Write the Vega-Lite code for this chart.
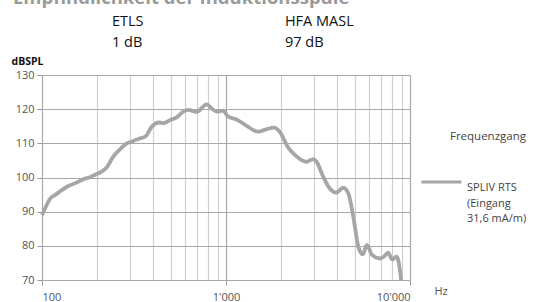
{
  "$schema": "https://vega.github.io/schema/vega-lite/v6.json",
  "width": 368,
  "height": 205,
  "autosize": "none",
  "padding": {"left": 42, "top": 75, "right": 138, "bottom": 22},
  "config": {
    "view": {"stroke": null},
    "font": "Open Sans",
    "axis": {"labelFont": "Open Sans", "titleFont": "Open Sans"}
  },
  "title": {
    "text": "Empfindlichkeit der Induktionsspule",
    "anchor": "start",
    "frame": "group",
    "fontSize": 18.5,
    "fontWeight": "bold",
    "color": "#9a9a9a",
    "baseline": "alphabetic",
    "offset": -9,
    "dx": -29
  },
  "datasets": {
    "curve": [
      {"f": 100, "db": 89.0, "s": "SPLIV RTS"},
      {"f": 104, "db": 91.0, "s": "SPLIV RTS"},
      {"f": 111, "db": 93.9, "s": "SPLIV RTS"},
      {"f": 118, "db": 94.9, "s": "SPLIV RTS"},
      {"f": 128, "db": 96.3, "s": "SPLIV RTS"},
      {"f": 139, "db": 97.5, "s": "SPLIV RTS"},
      {"f": 154, "db": 98.5, "s": "SPLIV RTS"},
      {"f": 168, "db": 99.5, "s": "SPLIV RTS"},
      {"f": 182, "db": 100.1, "s": "SPLIV RTS"},
      {"f": 198, "db": 101.0, "s": "SPLIV RTS"},
      {"f": 211, "db": 101.7, "s": "SPLIV RTS"},
      {"f": 225, "db": 103.0, "s": "SPLIV RTS"},
      {"f": 244, "db": 106.1, "s": "SPLIV RTS"},
      {"f": 265, "db": 108.2, "s": "SPLIV RTS"},
      {"f": 289, "db": 110.0, "s": "SPLIV RTS"},
      {"f": 314, "db": 110.7, "s": "SPLIV RTS"},
      {"f": 334, "db": 111.3, "s": "SPLIV RTS"},
      {"f": 366, "db": 112.1, "s": "SPLIV RTS"},
      {"f": 395, "db": 114.9, "s": "SPLIV RTS"},
      {"f": 434, "db": 116.1, "s": "SPLIV RTS"},
      {"f": 460, "db": 115.9, "s": "SPLIV RTS"},
      {"f": 496, "db": 116.8, "s": "SPLIV RTS"},
      {"f": 539, "db": 117.6, "s": "SPLIV RTS"},
      {"f": 586, "db": 119.3, "s": "SPLIV RTS"},
      {"f": 623, "db": 119.8, "s": "SPLIV RTS"},
      {"f": 692, "db": 119.2, "s": "SPLIV RTS"},
      {"f": 786, "db": 121.4, "s": "SPLIV RTS"},
      {"f": 837, "db": 120.2, "s": "SPLIV RTS"},
      {"f": 889, "db": 119.3, "s": "SPLIV RTS"},
      {"f": 966, "db": 119.6, "s": "SPLIV RTS"},
      {"f": 1027, "db": 117.8, "s": "SPLIV RTS"},
      {"f": 1140, "db": 117.0, "s": "SPLIV RTS"},
      {"f": 1295, "db": 115.1, "s": "SPLIV RTS"},
      {"f": 1497, "db": 113.4, "s": "SPLIV RTS"},
      {"f": 1655, "db": 114.1, "s": "SPLIV RTS"},
      {"f": 1830, "db": 114.6, "s": "SPLIV RTS"},
      {"f": 1957, "db": 113.4, "s": "SPLIV RTS"},
      {"f": 2175, "db": 108.8, "s": "SPLIV RTS"},
      {"f": 2368, "db": 106.6, "s": "SPLIV RTS"},
      {"f": 2570, "db": 105.1, "s": "SPLIV RTS"},
      {"f": 2742, "db": 104.6, "s": "SPLIV RTS"},
      {"f": 2980, "db": 105.4, "s": "SPLIV RTS"},
      {"f": 3104, "db": 104.6, "s": "SPLIV RTS"},
      {"f": 3378, "db": 100.2, "s": "SPLIV RTS"},
      {"f": 3665, "db": 96.8, "s": "SPLIV RTS"},
      {"f": 3980, "db": 95.6, "s": "SPLIV RTS"},
      {"f": 4330, "db": 97.0, "s": "SPLIV RTS"},
      {"f": 4620, "db": 95.4, "s": "SPLIV RTS"},
      {"f": 4920, "db": 88.5, "s": "SPLIV RTS"},
      {"f": 5240, "db": 79.7, "s": "SPLIV RTS"},
      {"f": 5540, "db": 77.5, "s": "SPLIV RTS"},
      {"f": 5830, "db": 80.3, "s": "SPLIV RTS"},
      {"f": 6200, "db": 77.4, "s": "SPLIV RTS"},
      {"f": 6870, "db": 76.3, "s": "SPLIV RTS"},
      {"f": 7200, "db": 76.8, "s": "SPLIV RTS"},
      {"f": 7600, "db": 78.0, "s": "SPLIV RTS"},
      {"f": 8000, "db": 76.0, "s": "SPLIV RTS"},
      {"f": 8430, "db": 76.8, "s": "SPLIV RTS"},
      {"f": 8620, "db": 75.9, "s": "SPLIV RTS"},
      {"f": 8950, "db": 70.0, "s": "SPLIV RTS"}
    ],
    "notes": [
      {"f": 240, "db": 145.6, "t": "ETLS"},
      {"f": 240, "db": 139.4, "t": "1 dB"},
      {"f": 2090, "db": 145.6, "t": "HFA MASL"},
      {"f": 2090, "db": 139.4, "t": "97 dB"}
    ]
  },
  "layer": [
    {
      "data": {"name": "curve"},
      "mark": {"type": "line", "strokeWidth": 3.8, "interpolate": "monotone"},
      "encoding": {
        "x": {
          "field": "f", "type": "quantitative",
          "scale": {"type": "log", "domain": [100, 10000], "nice": false},
          "axis": {
            "values": [100, 200, 300, 400, 500, 600, 700, 800, 900, 1000, 2000, 3000, 4000, 5000, 6000, 7000, 8000, 9000, 10000],
            "tickCount": 30,
            "labelExpr": "datum.value == 100 ? '100' : datum.value == 1000 ? '1\\'000' : datum.value == 10000 ? '10\\'000' : ''",
            "labelOverlap": false,
            "grid": true,
            "gridColor": {"condition": {"test": "datum.value == 100 || datum.value == 1000 || datum.value == 10000", "value": "#a8a8a8"}, "value": "#cfcfcf"},
            "gridWidth": 1.2,
            "ticks": true,
            "tickSize": {"condition": {"test": "datum.value == 100 || datum.value == 1000 || datum.value == 10000", "value": 5}, "value": 0},
            "tickColor": "#999999",
            "domainColor": "#a8a8a8",
            "labelColor": "#555555",
            "labelFontSize": 11,
            "labelPadding": 6,
            "title": "Hz",
            "titleColor": "#555555",
            "titleFontSize": 11,
            "titleFontWeight": "normal",
            "titleAngle": 0,
            "titleAlign": "left",
            "titleX": 392,
            "titleY": 5,
            "titleBaseline": "top"
          }
        },
        "y": {
          "field": "db", "type": "quantitative",
          "scale": {"domain": [70, 130], "nice": false, "zero": false},
          "axis": {
            "values": [70, 80, 90, 100, 110, 120, 130],
            "tickCount": 10,
            "labelOverlap": false,
            "grid": true,
            "gridColor": "#a8a8a8",
            "gridWidth": 1.2,
            "tickSize": 5,
            "tickColor": "#999999",
            "domainColor": "#a8a8a8",
            "labelColor": "#555555",
            "labelFontSize": 11,
            "labelPadding": 3,
            "title": "dBSPL",
            "titleColor": "#111111",
            "titleFontSize": 10.5,
            "titleFontWeight": "bold",
            "titleAngle": 0,
            "titleAlign": "left",
            "titleX": -31,
            "titleY": -9,
            "titleBaseline": "bottom"
          }
        },
        "color": {
          "field": "s", "type": "nominal",
          "scale": {"range": ["#a6a6a6"]},
          "legend": {
            "orient": "none",
            "legendX": 378,
            "legendY": 56,
            "title": "Frequenzgang",
            "titleFontSize": 11.5,
            "titleFontWeight": "normal",
            "titleColor": "#444444",
            "titleAnchor": "end",
            "titlePadding": 18,
            "symbolType": "stroke",
            "symbolSize": 1600,
            "symbolStrokeWidth": 3,
            "labelExpr": "['SPLIV RTS', '(Eingang', '31,6 mA/m)']",
            "labelFontSize": 11,
            "labelColor": "#444444",
            "labelBaseline": "top",
            "labelOffset": 4,
            "encode": {"labels": {"update": {"lineHeight": {"value": 15.5}}}}
          }
        }
      }
    },
    {
      "data": {"name": "notes"},
      "mark": {"type": "text", "align": "left", "baseline": "middle", "fontSize": 14.5, "color": "#111111"},
      "encoding": {
        "x": {"field": "f", "type": "quantitative"},
        "y": {"field": "db", "type": "quantitative"},
        "text": {"field": "t"}
      }
    }
  ]
}
